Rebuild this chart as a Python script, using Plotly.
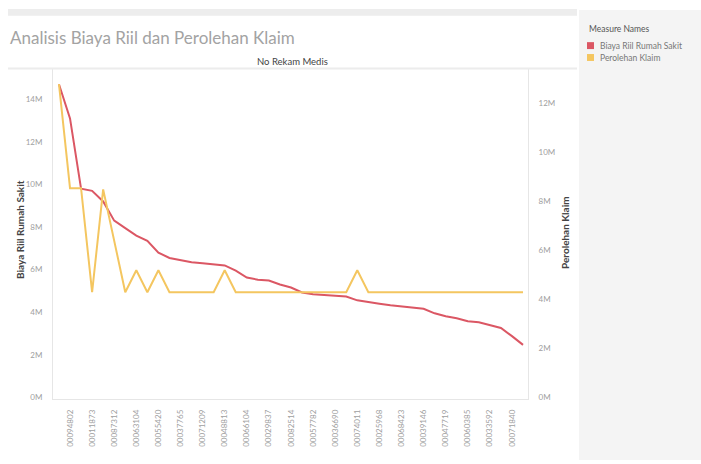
import plotly.graph_objects as go

# Medical record numbers (x categories)
record_ids = [
    "00049469", "00094802", "00098402", "00011873", "01072303", "00087312",
    "00242125", "00063104", "00725957", "00055420", "00021331", "00037765",
    "00026647", "00071209", "01105276", "00048813", "01618665", "00066104",
    "01051603", "00029837", "00131063", "00082514", "00041134", "00057782",
    "00512449", "00036690", "00109254", "00074011", "00510655", "00025968",
    "00012370", "00068423", "00051753", "00039146", "00053120", "00047719",
    "00012802", "00060385", "00082866", "00033592", "00004334", "00071840",
    "00058817",
]

# Hospital real cost per record (Rupiah)
biaya_riil = [
    14.7e6, 13.1e6, 9.8e6, 9.7e6, 9.2e6, 8.3e6, 7.95e6, 7.6e6, 7.35e6, 6.8e6,
    6.55e6, 6.45e6, 6.35e6, 6.3e6, 6.25e6, 6.2e6, 5.95e6, 5.63e6, 5.53e6, 5.49e6,
    5.3e6, 5.16e6, 4.93e6, 4.84e6, 4.81e6, 4.79e6, 4.74e6, 4.56e6, 4.47e6, 4.4e6,
    4.33e6, 4.28e6, 4.21e6, 4.16e6, 3.95e6, 3.81e6, 3.72e6, 3.58e6, 3.53e6, 3.4e6,
    3.26e6, 2.88e6, 2.47e6,
]

# Claim received per record (Rupiah)
perolehan_klaim = [
    12.8e6, 8.55e6, 8.55e6, 4.3e6, 8.5e6, 6.4e6, 4.3e6, 5.2e6, 4.3e6, 5.2e6,
    4.3e6, 4.3e6, 4.3e6, 4.3e6, 4.3e6, 5.2e6, 4.3e6, 4.3e6, 4.3e6, 4.3e6,
    4.3e6, 4.3e6, 4.3e6, 4.3e6, 4.3e6, 4.3e6, 4.3e6, 5.2e6, 4.3e6, 4.3e6,
    4.3e6, 4.3e6, 4.3e6, 4.3e6, 4.3e6, 4.3e6, 4.3e6, 4.3e6, 4.3e6, 4.3e6,
    4.3e6, 4.3e6, 4.3e6,
]

left_ticks = [0, 2e6, 4e6, 6e6, 8e6, 10e6, 12e6, 14e6]
left_labels = ["0M", "2M", "4M", "6M", "8M", "10M", "12M", "14M"]
right_ticks = [0, 2e6, 4e6, 6e6, 8e6, 10e6, 12e6]
right_labels = ["0M", "2M", "4M", "6M", "8M", "10M", "12M"]

series_names = ["Biaya Riil Rumah Sakit", "Perolehan Klaim"]
series_colors = ["#db5764", "#f4c660"]

W, H = 701, 464
FONT = "Lato"


def px_x(p):
    return p / W


def px_y(p):
    return 1 - p / H


idx = list(range(len(record_ids)))
shown = idx[1::2]

fig = go.Figure()
fig.add_trace(go.Scatter(
    x=idx, y=biaya_riil, mode="lines", name=series_names[0],
    line=dict(color=series_colors[0], width=2), showlegend=False,
))
fig.add_trace(go.Scatter(
    x=idx, y=perolehan_klaim, mode="lines", name=series_names[1],
    line=dict(color=series_colors[1], width=2), yaxis="y2", showlegend=False,
))

fig.update_layout(
    width=W, height=H,
    margin=dict(l=0, r=0, t=0, b=0),
    paper_bgcolor="white", plot_bgcolor="white",
    font=dict(family=FONT, color="#888"),
    xaxis=dict(
        domain=[px_x(53), px_x(528)],
        range=[-0.54, 42.45],
        tickmode="array", tickvals=shown,
        ticktext=[record_ids[i] for i in shown],
        tickangle=-90, tickfont=dict(size=8, color="#a0a0a0"),
        showgrid=False, zeroline=False,
        showline=True, linecolor="#e6e6e6", linewidth=1,
        ticks="", ticklabelstandoff=7,
    ),
    yaxis=dict(
        domain=[1 - 402 / H, 1 - 70 / H],
        range=[-0.05e6, 15.4e6],
        tickmode="array", tickvals=left_ticks, ticktext=left_labels,
        tickfont=dict(size=8, color="#a0a0a0"),
        showgrid=False, zeroline=False,
        showline=True, linecolor="#e6e6e6", linewidth=1,
        ticks="", ticklabelstandoff=8,
    ),
    yaxis2=dict(
        overlaying="y", side="right", anchor="x",
        range=[-0.04e6, 13.4e6],
        tickmode="array", tickvals=right_ticks, ticktext=right_labels,
        tickfont=dict(size=8, color="#a0a0a0"),
        showgrid=False, zeroline=False,
        showline=True, linecolor="#e6e6e6", linewidth=1,
        ticks="", ticklabelstandoff=8,
    ),
)

shapes = [
    # top band
    dict(type="rect", xref="paper", yref="paper",
         x0=px_x(8), x1=px_x(577), y0=px_y(16), y1=px_y(9),
         fillcolor="#ededed", line=dict(width=0), layer="below"),
    # legend panel
    dict(type="rect", xref="paper", yref="paper",
         x0=px_x(579), x1=1, y0=0, y1=px_y(10),
         fillcolor="#f4f4f4", line=dict(width=0), layer="below"),
    # header rule
    dict(type="line", xref="paper", yref="paper",
         x0=px_x(8), x1=px_x(577), y0=px_y(69), y1=px_y(69),
         line=dict(color="#ececec", width=2)),
]

annotations = [
    dict(text="Analisis Biaya Riil dan Perolehan Klaim", xref="paper", yref="paper",
         x=px_x(8), y=px_y(38), xanchor="left", yanchor="middle", showarrow=False,
         font=dict(size=17, color="#a3a3a3", family=FONT)),
    dict(text="No Rekam Medis", xref="paper", yref="paper",
         x=px_x(292), y=px_y(62), xanchor="center", yanchor="middle", showarrow=False,
         font=dict(size=9.5, color="#444", family=FONT)),
    dict(text="<b>Biaya Riil Rumah Sakit</b>", xref="paper", yref="paper",
         x=px_x(20), y=px_y(232), xanchor="center", yanchor="middle", showarrow=False,
         textangle=-90, font=dict(size=10, color="#444", family=FONT)),
    dict(text="<b>Perolehan Klaim</b>", xref="paper", yref="paper",
         x=px_x(565), y=px_y(235), xanchor="center", yanchor="middle", showarrow=False,
         textangle=-90, font=dict(size=10, color="#444", family=FONT)),
    dict(text="Measure Names", xref="paper", yref="paper",
         x=px_x(587), y=px_y(29), xanchor="left", yanchor="middle", showarrow=False,
         font=dict(size=8.5, color="#555", family=FONT)),
]

# Manual legend entries
for i, (name, color) in enumerate(zip(series_names, series_colors)):
    yc = 46 + 12 * i
    shapes.append(dict(type="rect", xref="paper", yref="paper",
                       x0=px_x(587), x1=px_x(594), y0=px_y(yc + 3.5), y1=px_y(yc - 3.5),
                       fillcolor=color, line=dict(width=0)))
    annotations.append(dict(text=name, xref="paper", yref="paper",
                            x=px_x(598), y=px_y(yc), xanchor="left", yanchor="middle",
                            showarrow=False, font=dict(size=8.5, color="#777", family=FONT)))

fig.update_layout(shapes=shapes, annotations=annotations)

fig.write_html("out.html")
